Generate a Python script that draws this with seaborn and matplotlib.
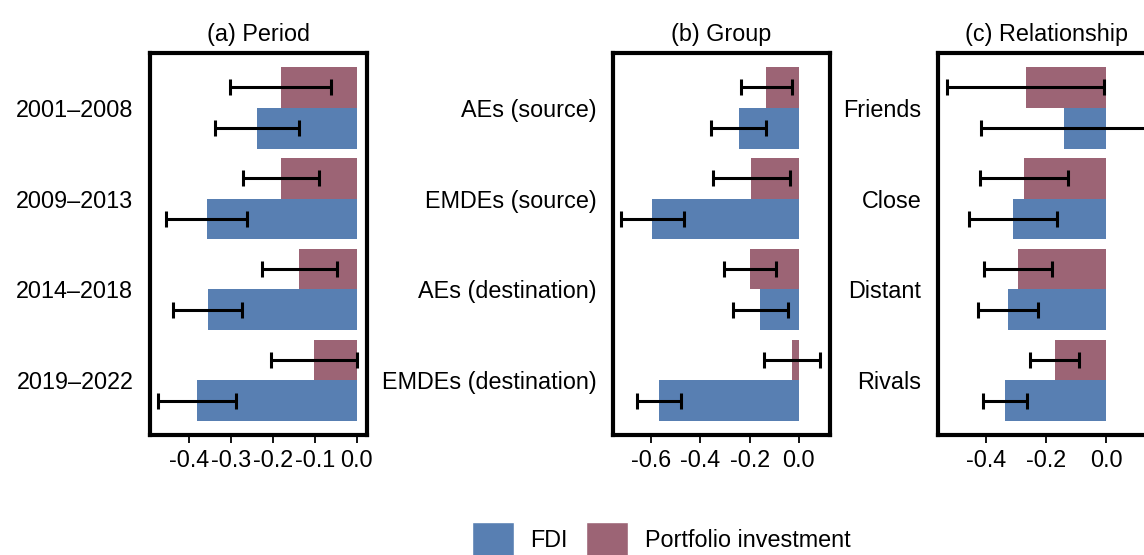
import numpy as np
import pandas as pd
import matplotlib
matplotlib.use("Agg")
import matplotlib.pyplot as plt
import matplotlib.patches as mpatches
import seaborn as sns

# ---- data ----
period_cats = ["2001–2008", "2009–2013", "2014–2018", "2019–2022"]
period_fdi = [-0.238, -0.358, -0.355, -0.381]
period_fdi_lo = [-0.338, -0.455, -0.438, -0.474]
period_fdi_hi = [-0.138, -0.262, -0.273, -0.288]
period_pi = [-0.181, -0.181, -0.137, -0.102]
period_pi_lo = [-0.302, -0.272, -0.227, -0.205]
period_pi_hi = [-0.062, -0.090, -0.047, 0.000]

group_cats = ["AEs (source)", "EMDEs (source)", "AEs (destination)", "EMDEs (destination)"]
group_fdi = [-0.245, -0.594, -0.156, -0.567]
group_fdi_lo = [-0.357, -0.720, -0.268, -0.657]
group_fdi_hi = [-0.134, -0.467, -0.045, -0.478]
group_pi = [-0.132, -0.193, -0.199, -0.028]
group_pi_lo = [-0.235, -0.349, -0.304, -0.142]
group_pi_hi = [-0.030, -0.037, -0.093, 0.085]

rel_cats = ["Friends", "Close", "Distant", "Rivals"]
rel_fdi = [-0.140, -0.310, -0.327, -0.337]
rel_fdi_lo = [-0.417, -0.457, -0.427, -0.410]
rel_fdi_hi = [0.137, -0.163, -0.227, -0.263]
rel_pi = [-0.268, -0.273, -0.293, -0.170]
rel_pi_lo = [-0.530, -0.420, -0.407, -0.253]
rel_pi_hi = [-0.007, -0.127, -0.180, -0.090]

titles = ["(a) Period", "(b) Group", "(c) Relationship"]
series_names = ["Portfolio investment", "FDI"]
colors = {"FDI": "#587fb2", "Portfolio investment": "#9c6475"}

sns.set_theme(style="white")
plt.rcParams["font.family"] = ["Liberation Sans", "DejaVu Sans"]
plt.rcParams["axes.unicode_minus"] = False
plt.rcParams["text.color"] = "black"
plt.rcParams["xtick.color"] = "black"
plt.rcParams["ytick.color"] = "black"
plt.rcParams["axes.labelcolor"] = "black"
FS = 16.8

fig = plt.figure(figsize=(11.44, 5.55), dpi=100)
W, H = 1144, 555
panels = [
    (period_cats, period_fdi, period_fdi_lo, period_fdi_hi, period_pi, period_pi_lo, period_pi_hi,
     150, (-0.493, 0.024), [-0.4, -0.3, -0.2, -0.1, 0.0]),
    (group_cats, group_fdi, group_fdi_lo, group_fdi_hi, group_pi, group_pi_lo, group_pi_hi,
     613, (-0.754, 0.126), [-0.6, -0.4, -0.2, 0.0]),
    (rel_cats, rel_fdi, rel_fdi_lo, rel_fdi_hi, rel_pi, rel_pi_lo, rel_pi_hi,
     938, (-0.56, 0.163), [-0.4, -0.2, 0.0]),
]

for k, (cats, fdi, flo, fhi, pi, plo, phi, left, xlim, ticks) in enumerate(panels):
    ax = fig.add_axes([left / W, 1 - 435 / H, 217 / W, 382 / H])
    df = pd.DataFrame({
        "cat": cats * 2,
        "series": ["FDI"] * 4 + ["Portfolio investment"] * 4,
        "value": fdi + pi,
        "lo": flo + plo,
        "hi": fhi + phi,
    })
    sns.barplot(data=df, y="cat", x="value", hue="series", hue_order=series_names,
                order=cats, palette=colors, width=0.9, errorbar=None, dodge=True,
                saturation=1, legend=False, ax=ax, orient="h", linewidth=0,
                edgecolor="none")
    for container, name in zip(ax.containers, series_names):
        sub = df[df["series"] == name].set_index("cat").loc[cats]
        ys = [b.get_y() + b.get_height() / 2 for b in container]
        vals = sub["value"].values
        xerr = np.vstack([vals - sub["lo"].values, sub["hi"].values - vals])
        ax.errorbar(vals, ys, xerr=xerr, fmt="none", ecolor="black",
                    elinewidth=2.2, capsize=6, capthick=2.2, zorder=5)
    ax.set_xlim(*xlim)
    ax.set_ylim(3.6, -0.6)
    ax.set_xticks(ticks)
    ax.set_xticklabels([f"{t:.1f}" for t in ticks], fontsize=FS)
    ax.set_yticks(range(4))
    ax.set_yticklabels(cats, fontsize=FS)
    ax.set_xlabel("")
    ax.set_ylabel("")
    ax.set_title(titles[k], fontsize=FS, pad=9, color="black")
    ax.tick_params(axis="x", length=6, width=1.3, color="black", pad=4, bottom=True)
    ax.tick_params(axis="y", length=0, pad=12)
    for s in ax.spines.values():
        s.set_visible(True)
        s.set_color("black")
        s.set_linewidth(3.0)
    ax.grid(False)

handles = [mpatches.Patch(facecolor=colors["FDI"], label="FDI"),
           mpatches.Patch(facecolor=colors["Portfolio investment"], label="Portfolio investment")]
fig.legend(handles=handles, loc="center", bbox_to_anchor=(661 / W, 1 - 539 / H), ncol=2,
           frameon=False, fontsize=FS, handlelength=1.8, handleheight=1.8,
           handletextpad=0.7, columnspacing=0.8)

fig.savefig("out.png", dpi=100)
